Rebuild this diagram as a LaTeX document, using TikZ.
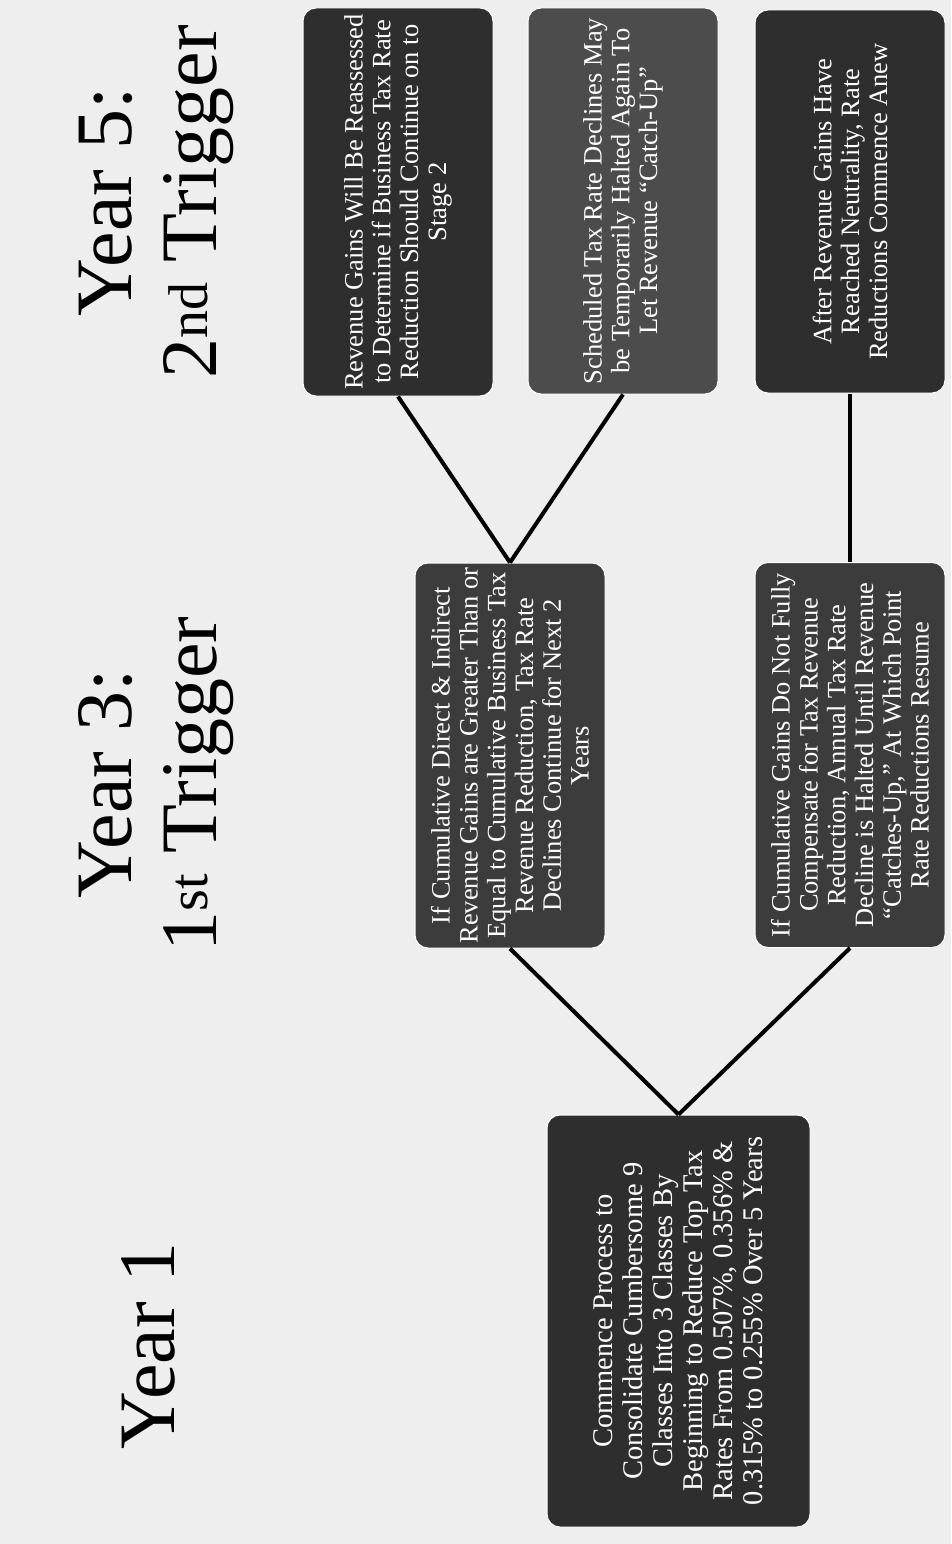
\documentclass[tikz,border=0pt]{standalone}
\usepackage{fontspec}
\setmainfont{Liberation Serif}
\definecolor{bg}{HTML}{EEEEEE}
\definecolor{boxdark}{HTML}{2E2E2E}
\definecolor{boxmid}{HTML}{3C3C3C}
\definecolor{boxlight}{HTML}{4C4C4C}
\begin{document}
\begin{tikzpicture}[x=1pt,y=-1pt,
  card/.style={rotate=90, rounded corners=13pt, fill=boxdark, draw=white, line width=1pt,
    text=white, align=center, inner sep=2pt, minimum width=388pt, minimum height=190pt,
    font=\fontsize{26.5}{27.8}\selectfont},
  bigcard/.style={card, minimum width=412pt, minimum height=263pt,
    font=\fontsize{28.5}{30}\selectfont},
  header/.style={rotate=90, align=center, text=black, inner sep=0pt,
    font=\fontsize{80}{85}\selectfont},
  link/.style={draw=black, line width=4pt}]
\useasboundingbox (0,0) rectangle (951,1544);
\fill[bg] (0,0) rectangle (951,1544);

% headers
\node[header] (y1) at (148,1346) {Year 1};
\node[header] (y3) at (156,784) {Year 3:\\1\textsuperscript{st} Trigger};
\node[header] (y5) at (156,202) {Year 5:\\2\textsuperscript{nd} Trigger};

% boxes
\node[bigcard] (b1) at (678.5,1321) {Commence Process to\\Consolidate Cumbersome 9\\Classes Into 3 Classes By\\Beginning to Reduce Top Tax\\Rates From 0.507\%, 0.356\% \&\\0.315\% to 0.255\% Over 5 Years};

\node[card, fill=boxmid, minimum width=385pt] (b2) at (510,755.5) {If Cumulative Direct \& Indirect\\Revenue Gains are Greater Than or\\Equal to Cumulative Business Tax\\Revenue Reduction, Tax Rate\\Declines Continue for Next 2\\Years};

\node[card, fill=boxmid, minimum width=385pt] (b3) at (850,755) {If Cumulative Gains Do Not Fully\\Compensate for Tax Revenue\\Reduction, Annual Tax Rate\\Decline is Halted Until Revenue\\“Catches-Up,” At Which Point\\Rate Reductions Resume};

\node[card] (ba) at (398,202) {Revenue Gains Will Be Reassessed\\to Determine if Business Tax Rate\\Reduction Should Continue on to\\Stage 2};

\node[card, fill=boxlight, minimum width=386pt] (bb) at (623,201) {Scheduled Tax Rate Declines May\\be Temporarily Halted Again To\\Let Revenue “Catch-Up”};

\node[card, minimum width=383pt] (bc) at (850,201.5) {After Revenue Gains Have\\Reached Neutrality, Rate\\Reductions Commence Anew};

% connectors
\draw[link] (b1.east) -- (b2.west);
\draw[link] (b1.east) -- (b3.west);
\draw[link] (b2.east) -- (ba.west);
\draw[link] (b2.east) -- (bb.west);
\draw[link] (b3.east) -- (bc.west);
\end{tikzpicture}
\end{document}
